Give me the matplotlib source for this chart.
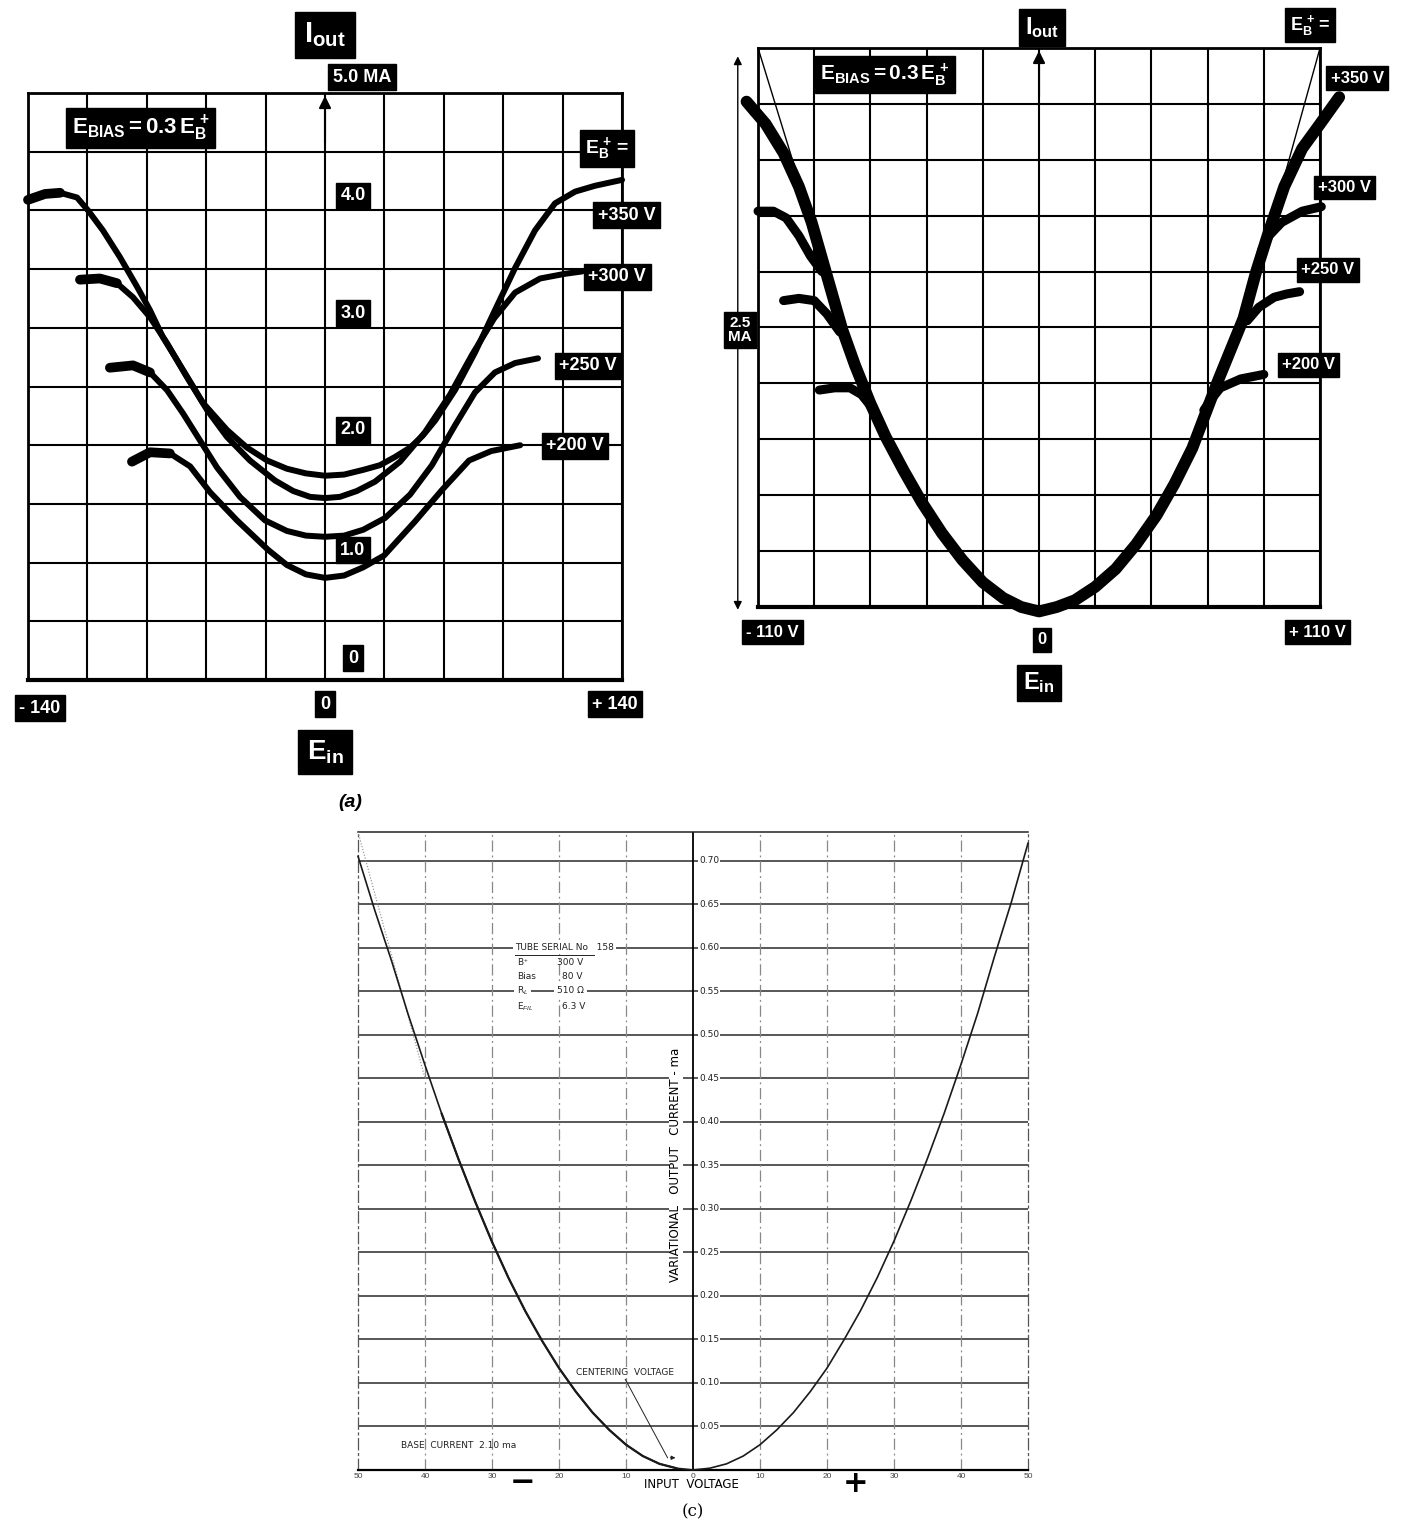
import matplotlib
matplotlib.use('Agg')
from matplotlib import pyplot as plt
from matplotlib import font_manager

names = {f.name for f in font_manager.fontManager.ttflist}
LABEL_FONT = 'Liberation Sans Narrow' if 'Liberation Sans Narrow' in names else 'Liberation Sans'

plt.rcParams['font.family'] = [LABEL_FONT, 'DejaVu Sans']
plt.rcParams['mathtext.fontset'] = 'custom'
plt.rcParams['mathtext.rm'] = LABEL_FONT
plt.rcParams['mathtext.bf'] = LABEL_FONT + ':bold'
plt.rcParams['mathtext.it'] = LABEL_FONT + ':italic'

# ---- panel (a): E_in (V) vs I_out (mA), E_bias = 0.3 E_B+
a_350_x = [-140.0, -132.0, -124.9, -116.9, -111.7, -104.7, -96.6, -88.6, -82.5, -76.4, -66.9, -57.5, -46.2, -36.8, -27.3,
           -18, -9, 0, 9, 18, 25.9, 33, 40.1, 46, 51.9, 61.3, 70.7, 80.1, 89.6, 99.0, 108.4, 117.9, 127.3, 140.0]
a_350_y = [4.09, 4.14, 4.15, 4.11, 4.00, 3.83, 3.60, 3.35, 3.15, 2.92, 2.64, 2.36, 2.13, 1.98, 1.87,
           1.80, 1.76, 1.74, 1.75, 1.79, 1.83, 1.90, 1.98, 2.08, 2.21, 2.47, 2.79, 3.15, 3.51, 3.83, 4.06, 4.16, 4.21, 4.26]

a_300_x = [-115.5, -106.1, -98.1, -90.5, -82.5, -74.5, -65.1, -55.6, -46.2, -35.4, -23.6, -15, -7, 0,
           7, 15, 23.6, 35.4, 47.1, 58.9, 69.3, 79.7, 89.6, 101.4, 113.1, 121.2]
a_300_y = [3.41, 3.42, 3.38, 3.26, 3.09, 2.87, 2.58, 2.30, 2.07, 1.87, 1.70, 1.61, 1.56, 1.55,
           1.56, 1.61, 1.69, 1.86, 2.11, 2.43, 2.77, 3.08, 3.30, 3.42, 3.46, 3.48]

a_250_x = [-101.4, -90.5, -82.5, -74.5, -66.9, -58.9, -50.9, -40.1, -28.3, -18, -9, 0,
           9, 18, 28.3, 40.1, 50.4, 61.3, 70.7, 80.1, 89.6, 100.4]
a_250_y = [2.66, 2.68, 2.62, 2.47, 2.27, 2.04, 1.81, 1.56, 1.36, 1.27, 1.23, 1.22,
           1.23, 1.28, 1.38, 1.58, 1.83, 2.17, 2.45, 2.62, 2.70, 2.74]

a_200_x = [-91.0, -82.5, -73.1, -63.6, -54.2, -41.5, -26.9, -18, -9, 0,
           9, 18, 27.8, 42.4, 55.2, 67.9, 78.3, 92.0]
a_200_y = [1.86, 1.94, 1.93, 1.82, 1.60, 1.36, 1.11, 0.98, 0.90, 0.87,
           0.89, 0.96, 1.06, 1.35, 1.62, 1.87, 1.95, 2.00]

a_curves = [(a_350_x, a_350_y), (a_300_x, a_300_y), (a_250_x, a_250_y), (a_200_x, a_200_y)]
a_curve_labels = ['+350 V', '+300 V', '+250 V', '+200 V']
a_scale_labels = ['4.0', '3.0', '2.0', '1.0', '0']

# ---- panel (b): envelope (+350 V) and saturation knees
b_env_x = [-114.5, -107, -100, -94, -89, -85, -81, -77, -72, -66, -60, -53, -46, -38, -30, -22, -14, -7, 0,
           7, 14, 22, 30, 38, 46, 53, 60, 65, 70, 75, 80, 85, 90, 96, 103, 110, 117.5]
b_env_y = [2.26, 2.16, 2.03, 1.88, 1.72, 1.56, 1.40, 1.24, 1.08, 0.91, 0.76, 0.61, 0.47, 0.33, 0.21, 0.11, 0.04, 0.0, -0.02,
           0.0, 0.03, 0.09, 0.17, 0.28, 0.41, 0.55, 0.71, 0.86, 1.01, 1.15, 1.29, 1.50, 1.68, 1.88, 2.05, 2.16, 2.28]

b_300_left_x = [-110, -104, -99, -94, -89.5, -85]
b_300_left_y = [1.77, 1.77, 1.74, 1.66, 1.57, 1.50]
b_300_right_x = [87, 90, 95, 103, 110.5]
b_300_right_y = [1.59, 1.66, 1.72, 1.77, 1.79]
b_250_left_x = [-100, -94, -88, -83, -78]
b_250_left_y = [1.37, 1.38, 1.37, 1.31, 1.23]
b_250_right_x = [81.5, 86, 92, 97, 102]
b_250_right_y = [1.28, 1.34, 1.385, 1.40, 1.41]
b_200_left_x = [-86, -80, -74, -69.5, -66]
b_200_left_y = [0.97, 0.98, 0.98, 0.95, 0.90]
b_200_right_x = [64.5, 67.5, 71, 79, 88]
b_200_right_y = [0.88, 0.93, 0.98, 1.02, 1.04]

b_knees = [(b_300_left_x, b_300_left_y), (b_300_right_x, b_300_right_y),
           (b_250_left_x, b_250_left_y), (b_250_right_x, b_250_right_y),
           (b_200_left_x, b_200_left_y), (b_200_right_x, b_200_right_y)]

b_guide_left_x = [-110, -89]
b_guide_left_y = [2.5, 1.72]
b_guide_right_x = [110, 93]
b_guide_right_y = [2.5, 1.80]

# ---- panel (c): input voltage (V) vs variational output current (ma)
c_x = [-50, -47.5, -45, -42.5, -40, -37.5, -35, -32.5, -30, -27.5, -25, -22.5, -20, -17.5, -15, -12.5, -10, -7.5, -5, -2.5, 0,
       2.5, 5, 7.5, 10, 12.5, 15, 17.5, 20, 22.5, 25, 27.5, 30, 32.5, 35, 37.5, 40, 42.5, 45, 47.5, 50]
c_y = [0.705, 0.643, 0.585, 0.523, 0.465, 0.409, 0.357, 0.308, 0.262, 0.220, 0.182, 0.148, 0.117, 0.090, 0.066, 0.046,
       0.029, 0.016, 0.007, 0.002, 0.0,
       0.002, 0.007, 0.016, 0.029, 0.046, 0.066, 0.090, 0.117, 0.149, 0.183, 0.221, 0.263, 0.309, 0.358, 0.410, 0.466,
       0.525, 0.590, 0.652, 0.72]
c_guide_x = [-50, -40]
c_guide_y = [0.733, 0.45]
c_ticks = [0.05, 0.10, 0.15, 0.20, 0.25, 0.30, 0.35, 0.40, 0.45, 0.50, 0.55, 0.60, 0.65, 0.70]
c_xlabels = ['50', '40', '30', '20', '10', '0', '10', '20', '30', '40', '50']


def box(ax, x, y, s, size, pad=0.25, **kw):
    ax.text(x, y, s, transform=ax.transAxes, color='white', fontsize=size, fontweight='bold',
            ha='center', va='center', clip_on=False,
            bbox=dict(boxstyle='square,pad=%s' % pad, fc='black', ec='black'), **kw)


def scope_grid(ax, xlim, xstep, ylim, ystep):
    ax.set_xlim(*xlim)
    ax.set_ylim(*ylim)
    ax.set_xticks([xlim[0] + i * xstep for i in range(11)])
    ax.set_yticks([ylim[0] + i * ystep for i in range(11)])
    ax.grid(True, color='black', lw=1.5)
    ax.tick_params(length=0, labelbottom=False, labelleft=False)
    for s in ax.spines.values():
        s.set_linewidth(2)
    ax.spines['bottom'].set_linewidth(3)


fig = plt.figure(figsize=(14.04, 15.22), dpi=100)

# ---------------- (a)
ax = fig.add_axes([0.01994, 0.5532, 0.4231, 0.3857])
scope_grid(ax, (-140, 140), 28, (0, 5), 0.5)
for cx, cy in a_curves:
    ax.plot(cx, cy, color='black', lw=4.3, solid_capstyle='round', solid_joinstyle='round',
            clip_on=False, zorder=3)
    ax.plot(cx[:3], cy[:3], color='black', lw=7, solid_capstyle='round', clip_on=False, zorder=3)
ax.annotate('', xy=(0, 5.0), xytext=(0, 4.55),
            arrowprops=dict(arrowstyle='-|>', color='black', lw=1.5, mutation_scale=18))

box(ax, 0.5, 1.099, r'$\mathbf{I_{out}}$', 21, pad=0.3)
box(ax, 0.562, 1.027, '5.0 MA', 13)
box(ax, 0.189, 0.940, r'$\mathbf{E_{BIAS}= 0.3\,E_B^{\,+}}$', 16)
box(ax, 0.975, 0.906, r'$\mathbf{E_B^{\,+}=}$', 14)
for lab, yy in zip(a_scale_labels, [0.825, 0.625, 0.426, 0.221, 0.037]):
    box(ax, 0.547, yy, lab, 13)
for lab, (xx, yy) in zip(a_curve_labels, [(1.008, 0.792), (0.992, 0.687), (0.943, 0.535), (0.921, 0.399)]):
    box(ax, xx, yy, lab, 13)
box(ax, 0.02, -0.048, '- 140', 13)
box(ax, 0.5, -0.041, '0', 13)
box(ax, 0.988, -0.041, '+ 140', 13)
box(ax, 0.5, -0.123, r'$\mathbf{E_{in}}$', 20, pad=0.3)
ax.text(0.542, -0.208, '(a)', transform=ax.transAxes, fontsize=14, fontweight='bold',
        fontstyle='italic', ha='center', va='center')

# ---------------- (b)
bx = fig.add_axes([0.5399, 0.6012, 0.4003, 0.3673])
scope_grid(bx, (-110, 110), 22, (0, 2.5), 0.25)
bx.plot(b_guide_left_x, b_guide_left_y, color='black', lw=1.0)
bx.plot(b_guide_right_x, b_guide_right_y, color='black', lw=1.0)
bx.plot(b_env_x, b_env_y, color='black', lw=8.5, solid_capstyle='round', solid_joinstyle='round',
        clip_on=False, zorder=3)
for kx, ky in b_knees:
    bx.plot(kx, ky, color='black', lw=6.5, solid_capstyle='round', solid_joinstyle='round',
            clip_on=False, zorder=3)
bx.annotate('', xy=(0, 2.5), xytext=(0, 2.27),
            arrowprops=dict(arrowstyle='-|>', color='black', lw=1.5, mutation_scale=18))
bx.annotate('', xy=(-0.036, 0.99), xytext=(-0.036, -0.01), xycoords='axes fraction',
            textcoords='axes fraction',
            arrowprops=dict(arrowstyle='<|-|>', color='black', lw=1.0, mutation_scale=12))
box(bx, -0.032, 0.495, '2.5\nMA', 11, linespacing=1.0)
box(bx, 0.505, 1.036, r'$\mathbf{I_{out}}$', 17)
box(bx, 0.982, 1.041, r'$\mathbf{E_B^{\,+}=}$', 13)
box(bx, 0.226, 0.952, r'$\mathbf{E_{BIAS}= 0.3\,E_B^{\,+}}$', 15)
for lab, (xx, yy) in zip(a_curve_labels, [(1.066, 0.946), (1.044, 0.750), (1.014, 0.603), (0.979, 0.433)]):
    box(bx, xx, yy, lab, 12)
box(bx, 0.025, -0.045, '- 110 V', 12)
box(bx, 0.505, -0.059, '0', 12)
box(bx, 0.996, -0.045, '+ 110 V', 12)
box(bx, 0.5, -0.136, r'$\mathbf{E_{in}}$', 17)

# ---------------- (c)
cx_ = fig.add_axes([0.2550, 0.0342, 0.4772, 0.4192])
cx_.set_xlim(-50, 50)
cx_.set_ylim(0, 0.733)
for v in c_ticks:
    cx_.axhline(v, color='#2a2a2a', lw=1.1, zorder=1)
for v in range(-40, 41, 10):
    if v != 0:
        cx_.axvline(v, color='#888888', lw=0.9, ls=(0, (9, 3, 1.5, 3)), zorder=1)
cx_.axvline(0, color='black', lw=1.3, zorder=2)
for side in ['left', 'right']:
    cx_.spines[side].set_linestyle((0, (9, 3, 1.5, 3)))
    cx_.spines[side].set_color('#555555')
    cx_.spines[side].set_linewidth(0.9)
cx_.spines['top'].set_color('#222222')
cx_.spines['top'].set_linewidth(1.1)
cx_.spines['bottom'].set_linewidth(1.6)
cx_.set_yticks([])
cx_.set_xticks(range(-50, 51, 10))
cx_.set_xticklabels(c_xlabels)
cx_.tick_params(axis='x', length=0, labelsize=6, pad=2, labelcolor='#444444')

cx_.plot(c_x, c_y, color='#1a1a1a', lw=1.2, zorder=4, clip_on=False)
cx_.plot(c_x[5:20], c_y[5:20], color='#1a1a1a', lw=1.6, zorder=4)
cx_.plot(c_guide_x, c_guide_y, color='#888888', lw=0.8, ls=':', zorder=3)

for v in c_ticks:
    cx_.text(0.9, v, f'{v:.2f}', fontsize=6.5, ha='left', va='center', color='#222222', zorder=5,
             family='DejaVu Sans', bbox=dict(fc='white', ec='none', pad=0.6))

cx_.text(-2.6, 0.351, 'VARIATIONAL   OUTPUT   CURRENT - ma', rotation=90, ha='center', va='center',
         fontsize=8.5, family='DejaVu Sans', zorder=5, bbox=dict(fc='white', ec='none', pad=0.3))

tf = dict(fontsize=6.5, family='DejaVu Sans', color='#222222', va='center', zorder=5)
cx_.text(-26.6, 0.600, 'TUBE SERIAL No   158', ha='left',
         bbox=dict(fc='white', ec='none', pad=1.5), **tf)
cx_.plot([-26.6, -14.8], [0.592, 0.592], color='#222222', lw=0.7, zorder=6)
cx_.text(-26.3, 0.583, r'B$^{+}$', ha='left', **tf)
cx_.text(-20.3, 0.583, '300 V', ha='left', **tf)
cx_.text(-26.3, 0.567, 'Bias', ha='left', **tf)
cx_.text(-19.5, 0.567, '80 V', ha='left', **tf)
cx_.text(-26.3, 0.551, r'R$_{L}$', ha='left', bbox=dict(fc='white', ec='none', pad=2), **tf)
cx_.text(-20.3, 0.551, '510 Ω', ha='left', bbox=dict(fc='white', ec='none', pad=2), **tf)
cx_.text(-26.3, 0.532, r'E$_{FIL}$', ha='left', **tf)
cx_.text(-19.5, 0.532, '6.3 V', ha='left', **tf)

cx_.text(-10.1, 0.112, 'CENTERING  VOLTAGE', ha='center', bbox=dict(fc='white', ec='none', pad=1), **tf)
cx_.annotate('', xy=(-2.2, 0.014), xytext=(-3.8, 0.014),
             arrowprops=dict(arrowstyle='-|>', color='#222222', lw=0.7, mutation_scale=6))
cx_.plot([-10.1, -3.8], [0.104, 0.014], color='#222222', lw=0.7, zorder=5)
cx_.text(-43.6, 0.028, 'BASE  CURRENT  2.10 ma', ha='left', **tf)

cx_.text(0.497, -0.0235, 'INPUT  VOLTAGE', transform=cx_.transAxes, ha='center', va='center',
         fontsize=8.5, family='DejaVu Sans')
cx_.text(0.245, -0.019, '−', transform=cx_.transAxes, ha='center', va='center',
         fontsize=22, family='DejaVu Sans', fontweight='bold')
cx_.text(0.742, -0.022, '+', transform=cx_.transAxes, ha='center', va='center',
         fontsize=22, family='DejaVu Sans', fontweight='bold')
cx_.text(0.5, -0.066, '(c)', transform=cx_.transAxes, ha='center', va='center',
         fontsize=12, family='DejaVu Serif')

fig.savefig('out.png', dpi=100)
